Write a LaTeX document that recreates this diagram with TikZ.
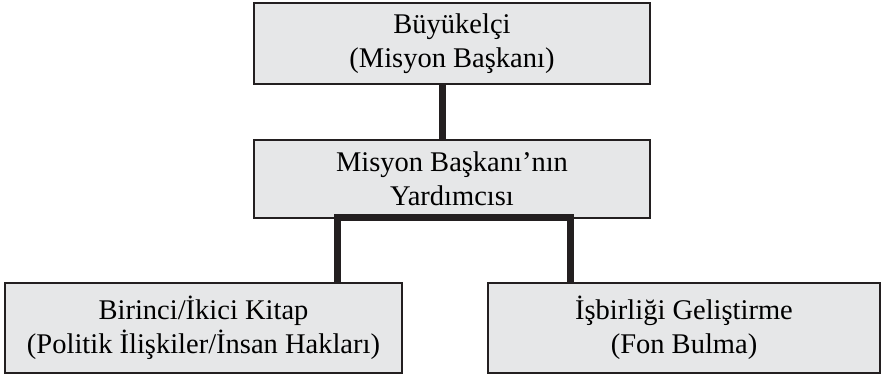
\documentclass[tikz,border=0pt]{standalone}
\usepackage{fontspec}
\setmainfont{Liberation Serif}
\definecolor{boxfill}{HTML}{E6E7E8}
\definecolor{boxline}{HTML}{231F20}
\begin{document}
\begin{tikzpicture}[x=1pt,y=-1pt,line join=miter,font=\fontsize{28.5}{34}\selectfont]
\tikzset{unit/.style={draw=boxline,fill=boxfill,line width=2pt,align=center,inner sep=0pt},
  link/.style={draw=boxline,line width=7pt}}
\useasboundingbox (0,0) rectangle (881,376);
\node[unit,minimum width=396pt,minimum height=81pt] (elci) at (452,43.5) {Büyükelçi\\(Misyon Başkanı)};
\node[unit,minimum width=396pt,minimum height=78pt] (yard) at (452,179) {Misyon Başkanı’nın\\Yardımcısı};
\node[unit,minimum width=397pt,minimum height=90pt] (kitap) at (203.5,328) {Birinci/İkici Kitap\\(Politik İlişkiler/İnsan Hakları)};
\node[unit,minimum width=392pt,minimum height=90pt] (fon) at (684,328) {İşbirliği Geliştirme\\(Fon Bulma)};
% connectors
\coordinate (a) at ([xshift=-10pt]elci.south);
\coordinate (b) at ([xshift=-115pt,yshift=2pt]yard.south);
\coordinate (c) at ([xshift=118pt,yshift=2pt]yard.south);
\draw[link] (a) -- (a |- yard.north);
\draw[link] (b |- kitap.north) -- (b) -- (c) -- (c |- fon.north);
\end{tikzpicture}
\end{document}
